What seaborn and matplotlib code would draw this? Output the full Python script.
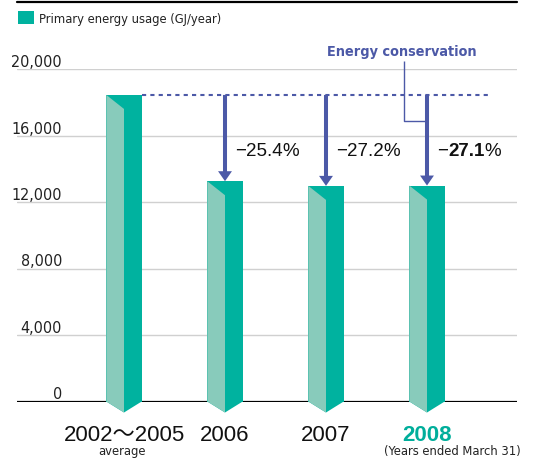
import matplotlib
matplotlib.use("Agg")
import matplotlib.pyplot as plt
import seaborn as sns
import pandas as pd
from matplotlib import font_manager as fm
from matplotlib.patches import Polygon, FancyArrowPatch, Patch, ArrowStyle
from matplotlib.lines import Line2D
from matplotlib.offsetbox import TextArea, HPacker, AnnotationBbox
from matplotlib.font_manager import FontProperties

# Primary energy usage (GJ/year)
categories = ["2002～2005", "2006", "2007", "2008"]
sublabels = ["average", "", "", "(Years ended March 31)"]
usage = [18440, 13250, 12970, 12990]
reductions = ["25.4", "27.2", "27.1"]
yticks = [0, 4000, 8000, 12000, 16000, 20000]
ytick_labels = ["0", "4,000", "8,000", "12,000", "16,000", "20,000"]

DARK = "#00b29f"
LIGHT = "#88cbbb"
BLUE = "#4c59a7"
GRID = "#d0d0d0"
TEAL_TXT = "#00ae9b"

W, H = 533, 460
sns.set_theme(style="white")
SANS = ["Liberation Sans", "Noto Sans CJK JP", "DejaVu Sans"]
plt.rcParams["font.family"] = SANS

# narrow face for axis numbers and small captions
_faces = {(f.name, f.stretch) for f in fm.fontManager.ttflist}
if any(n == "Liberation Sans Narrow" for n, _ in _faces):
    NARROW = dict(family="Liberation Sans Narrow", stretch="normal")
elif any(n == "DejaVu Sans" and s in ("condensed", "semi-condensed") for n, s in _faces):
    NARROW = dict(family="DejaVu Sans", stretch="condensed")
else:
    NARROW = dict(family="Roboto", stretch="normal")


def narrow(size, weight="normal"):
    return FontProperties(family=NARROW["family"], stretch=NARROW["stretch"],
                          size=size, weight=weight)


fig = plt.figure(figsize=(W / 100, H / 100), dpi=100)
fig.patch.set_facecolor("white")

# plot area in pixels
AX_L, AX_R = 17, 517
Y0_PX, Y1_PX = 402.5, 70
YMAX = 20000
ax = fig.add_axes([AX_L / W, (H - Y0_PX) / H, (AX_R - AX_L) / W, (Y0_PX - Y1_PX) / H])

PX_PER_UNIT_Y = (Y0_PX - Y1_PX) / YMAX
PX_PER_CAT = 101.0


def py(px):
    """vertical pixel distance -> data units"""
    return px / PX_PER_UNIT_Y


def px_x(px):
    """horizontal pixel distance -> category units"""
    return px / PX_PER_CAT


df = pd.DataFrame({"year": categories, "usage": usage})
sns.barplot(data=df, x="year", y="usage", order=categories, color=DARK,
            saturation=1, width=0.35, ax=ax, zorder=3, linewidth=0)

ax.set_xlim(-px_x(124 - AX_L), 3 + px_x(AX_R - 427))
ax.set_ylim(0, YMAX)

# prism faces: light left face, dark top wedge, pointed bottom
drop = py(14)
tip = py(11)
for p in list(ax.patches):
    x0, w, top = p.get_x(), p.get_width(), p.get_height()
    xc = x0 + w / 2
    ax.add_patch(Polygon([(x0, 0), (x0 + w, 0), (xc, -tip)], closed=True,
                         facecolor=DARK, edgecolor="none", zorder=3, clip_on=False))
    ax.add_patch(Polygon([(x0, top), (xc, top - drop), (xc, -tip), (x0, 0)], closed=True,
                         facecolor=LIGHT, edgecolor="none", zorder=4, clip_on=False))

# grid, baseline, spines
for s in ax.spines.values():
    s.set_visible(False)
ax.set_yticks(yticks)
ax.set_yticklabels(ytick_labels, va="bottom", fontproperties=narrow(11.5), color="#222222")
ax.yaxis.grid(True, color=GRID, lw=1.0)
ax.set_axisbelow(True)
ax.tick_params(axis="y", length=0, pad=-(62 - AX_L) * 0.72)
ax.axhline(0, color="black", lw=1.6, zorder=2)
ax.set_xlabel("")
ax.set_ylabel("")

# category labels
ax.set_xticks(range(len(categories)))
ax.set_xticklabels(categories, fontsize=16, color="#111111")
ax.tick_params(axis="x", length=0, pad=16)
xl = ax.get_xticklabels()
xl[3].set_fontweight("bold")
xl[3].set_color(TEAL_TXT)

sub_offsets = [(-2, "center"), None, None, (94, "right")]
for i, (txt, off) in enumerate(zip(sublabels, sub_offsets)):
    if not txt:
        continue
    dx, ha = off
    ax.annotate(txt, xy=(i, 0), xytext=(dx * 0.72, -49.5 * 0.72), textcoords="offset points",
                ha=ha, va="center", fontproperties=narrow(9.3), color="#222222",
                annotation_clip=False)

# reference level and reduction arrows
base = usage[0]
x_end = 3 + px_x(488 - 427)
ax.plot([0 + 0.175, x_end], [base, base], color=BLUE, lw=1.5, ls=(0, (2, 2)),
        zorder=2, clip_on=False)

arrow_style = ArrowStyle.Simple(head_length=7.2, head_width=10, tail_width=2.9)
for i in range(1, len(usage)):
    ax.add_patch(FancyArrowPatch((i, base), (i, usage[i]), arrowstyle=arrow_style,
                                 mutation_scale=1, color=BLUE, lw=0,
                                 shrinkA=0, shrinkB=0, zorder=6, clip_on=False))

label_y = py(Y0_PX - 151)
for i, pct in enumerate(reductions, start=1):
    bold = (i == len(usage) - 1)
    parts = [
        TextArea("−", textprops=dict(fontsize=13.5, color="#111111")),
        TextArea(pct, textprops=dict(fontsize=13.5, color="#111111",
                                     fontweight="bold" if bold else "normal")),
        TextArea("%", textprops=dict(fontsize=13.5, color="#111111")),
    ]
    box = HPacker(children=parts, align="baseline", pad=0, sep=0)
    ab = AnnotationBbox(box, (i, label_y), xybox=(10 * 0.72, 0), xycoords="data",
                        boxcoords="offset points", box_alignment=(0, 0.5),
                        frameon=False, pad=0, annotation_clip=False)
    ax.add_artist(ab)

# "Energy conservation" callout
ax.text(3 - px_x(427 - 402), py(Y0_PX - 52), "Energy conservation", ha="center", va="center",
        fontproperties=narrow(10.4, "bold"), color=BLUE)
xv = 3 - px_x(427 - 404)
ax.plot([xv, xv, 3 - px_x(2)], [py(Y0_PX - 62), py(Y0_PX - 122), py(Y0_PX - 122)],
        color=BLUE, lw=1.0, zorder=5, clip_on=False, solid_capstyle="butt")

# header rule and legend
fig.add_artist(Line2D([AX_L / W, AX_R / W], [1 - 3 / H, 1 - 3 / H], color="black", lw=1.6))
fig.legend(handles=[Patch(facecolor=DARK, edgecolor="none", label="Primary energy usage (GJ/year)")],
           loc="upper left", bbox_to_anchor=(18 / W, 1 - 12 / H), frameon=False,
           borderpad=0, borderaxespad=0, handlelength=1.2, handleheight=1.2,
           handletextpad=0.45, prop=narrow(9.3), labelcolor="#222222")

fig.savefig("out.png", dpi=100, facecolor="white")
